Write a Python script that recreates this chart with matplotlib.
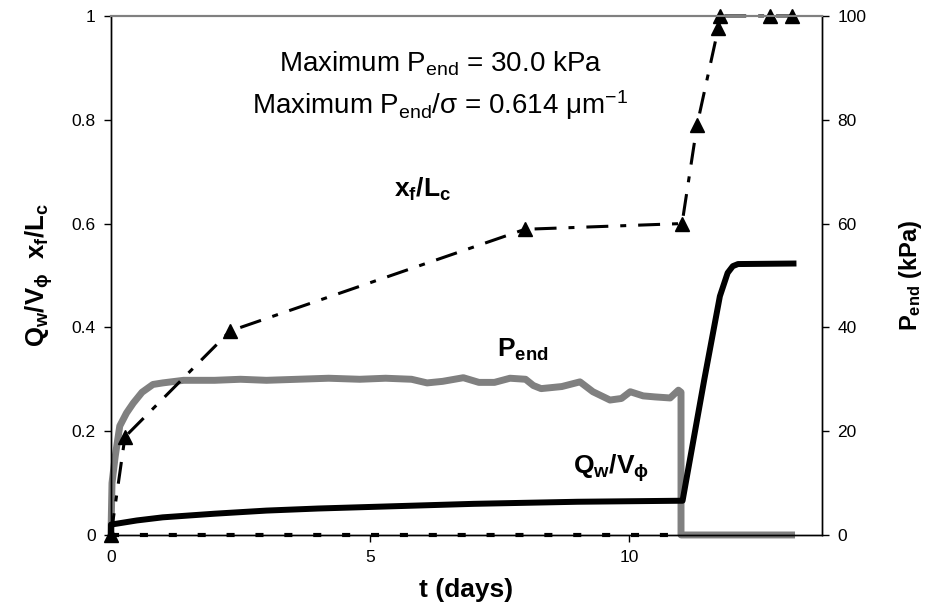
import matplotlib
matplotlib.use("Agg")
import matplotlib.pyplot as plt

plt.rcParams['font.family'] = ['Liberation Sans', 'DejaVu Sans']
plt.rcParams['mathtext.fontset'] = 'custom'
plt.rcParams['mathtext.rm'] = 'Liberation Sans'
plt.rcParams['mathtext.it'] = 'Liberation Sans'
plt.rcParams['mathtext.bf'] = 'Liberation Sans:bold'
plt.rcParams['lines.scale_dashes'] = False

# ---- data ----
# x_f / L_c (triangles, dash-dot)
xf_t = [0.0, 0.27, 2.30, 7.99, 11.02, 11.31, 11.72, 11.76, 12.72, 13.14]
xf_v = [0.0, 0.189, 0.393, 0.589, 0.600, 0.790, 0.977, 1.000, 1.000, 1.000]

# Q_w / V_phi (thick black)
qw_t = [0.0, 0.0, 0.5, 1.0, 2.0, 3.0, 4.0, 5.0, 6.0, 7.0, 8.0, 9.0, 10.0, 11.03,
        11.45, 11.75, 11.9, 12.0, 12.1, 13.17]
qw_v = [0.0, 0.02, 0.028, 0.034, 0.041, 0.047, 0.051, 0.054, 0.057, 0.060, 0.062,
        0.064, 0.065, 0.066, 0.30, 0.46, 0.505, 0.518, 0.522, 0.523]

# P_end in kPa (thick gray, right axis)
p_t = [0.0, 0.02, 0.08, 0.17, 0.30, 0.43, 0.60, 0.81, 1.0, 1.4, 2.0, 2.5, 3.0, 3.6,
       4.2, 4.8, 5.3, 5.8, 6.1, 6.4, 6.8, 7.1, 7.4, 7.7, 8.0, 8.15, 8.3, 8.7, 9.05,
       9.3, 9.63, 9.85, 10.02, 10.27, 10.5, 10.79, 10.95, 11.0, 11.0, 13.2]
p_v = [0.0, 10.0, 15.0, 21.0, 23.5, 25.4, 27.5, 29.0, 29.3, 29.8, 29.8, 30.0, 29.8,
       30.0, 30.2, 30.0, 30.2, 30.0, 29.3, 29.6, 30.3, 29.4, 29.4, 30.2, 30.0, 28.8,
       28.2, 28.6, 29.5, 27.6, 26.0, 26.3, 27.6, 26.8, 26.6, 26.4, 27.9, 27.5, 0.0, 0.0]

# zero-level dashed series
z_t = [0.0, 10.95]
z_v = [0.0, 0.0]

x_ticks = [0, 5, 10]
y_ticks = [0, 0.2, 0.4, 0.6, 0.8, 1]
y_ticklabels = ['0', '0.2', '0.4', '0.6', '0.8', '1']
y2_ticks = [0, 20, 40, 60, 80, 100]

fig = plt.figure(figsize=(9.27, 6.14), dpi=100)
ax1 = fig.add_axes([0.1197, 0.1287, 0.767, 0.8453])
ax2 = ax1.twinx()
ax1.set_zorder(ax2.get_zorder() + 1)
ax1.patch.set_visible(False)

# gray P_end on right axis
ax2.plot(p_t, p_v, color='#808080', lw=5.0, solid_joinstyle='round',
         solid_capstyle='butt', clip_on=False)
ax2.set_ylim(0, 100)
ax2.set_yticks(y2_ticks)

# black Q_w/V_phi
ax1.plot(qw_t, qw_v, color='black', lw=4.3, solid_joinstyle='round', clip_on=False)
# zero dashed
ax1.plot(z_t, z_v, color='black', lw=3.0, dashes=(5.8, 15.0), clip_on=False)
# x_f/L_c
ax1.plot(xf_t, xf_v, color='black', lw=2.2, dashes=(15.8, 8.6, 4.3, 8.6),
         marker='^', markersize=10, markerfacecolor='black', markeredgecolor='black',
         clip_on=False)

ax1.set_xlim(0, 13.72)
ax1.set_ylim(0, 1)
ax1.set_xticks(x_ticks)
ax1.set_yticks(y_ticks)
ax1.set_yticklabels(y_ticklabels)

for ax in (ax1, ax2):
    ax.spines['top'].set_color('#808080')
    ax.spines['top'].set_linewidth(1.5)
    for s in ('left', 'right', 'bottom'):
        ax.spines[s].set_color('black')
        ax.spines[s].set_linewidth(1.0)
    ax.tick_params(direction='out', length=5, width=1, labelsize=12.5, pad=6)

ax1.set_xlabel('t (days)', fontsize=19, fontweight='bold', labelpad=9)
ax1.set_ylabel(r'Q$_\mathbf{w}$/V$_\mathbf{\phi}$  x$_\mathbf{f}$/L$_\mathbf{c}$',
               fontsize=18.5, fontweight='bold', labelpad=12)
ax2.set_ylabel(r'P$_\mathbf{end}$ (kPa)', fontsize=17, fontweight='bold', labelpad=22)

ax1.text(6.35, 0.893, r'Maximum P$_\mathrm{end}$ = 30.0 kPa', fontsize=20,
         ha='center', va='baseline')
ax1.text(6.35, 0.812, r'Maximum P$_\mathrm{end}$/σ = 0.614 μm$^{-1}$', fontsize=20,
         ha='center', va='baseline')

ax1.text(6.02, 0.665, r'x$_\mathbf{f}$/L$_\mathbf{c}$', fontsize=19, fontweight='bold',
         ha='center', va='center')
ax1.text(7.95, 0.356, r'P$_\mathbf{end}$', fontsize=19, fontweight='bold',
         ha='center', va='center')
ax1.text(9.65, 0.129, r'Q$_\mathbf{w}$/V$_\mathbf{\phi}$', fontsize=19, fontweight='bold',
         ha='center', va='center')

fig.savefig('out.png', dpi=100)
